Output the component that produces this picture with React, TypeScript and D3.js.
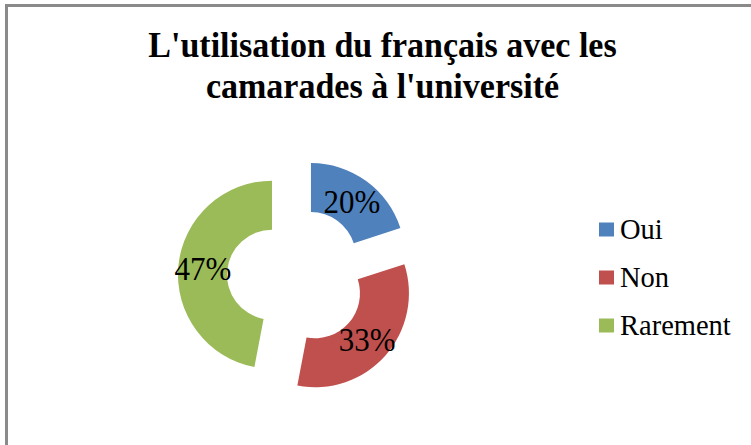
import React, { useEffect, useRef } from "react";
import * as d3 from "d3";

// chart data
const categories = ["Oui", "Non", "Rarement"];
const values = [20, 33, 47];
const colors = ["#4F81BD", "#C0504D", "#9BBB59"];
const titleLines = ["L'utilisation du français avec les", "camarades à l'université"];

const W = 751;
const H = 445;
const FONT = "'Liberation Serif', 'Times New Roman', serif";

const App = () => {
  const ref = useRef<SVGSVGElement>(null);

  useEffect(() => {
    const svg = d3.select(ref.current);
    svg.selectAll("*").remove();

    // white background + gray frame (right/bottom edges run off the picture)
    svg.append("rect").attr("width", W).attr("height", H).attr("fill", "#fff");
    svg
      .append("rect")
      .attr("x", 6.5)
      .attr("y", 5.5)
      .attr("width", W + 20)
      .attr("height", H + 20)
      .attr("fill", "none")
      .attr("stroke", "#8a8a8a")
      .attr("stroke-width", 3);

    // title (glyphs in the original are a bit taller than wide)
    svg
      .append("g")
      .selectAll("text")
      .data(titleLines)
      .enter()
      .append("text")
      .attr("transform", (d, i) => `translate(382.5,${57 + i * 41}) scale(1,1.07)`)
      .attr("text-anchor", "middle")
      .attr("font-family", FONT)
      .attr("font-weight", "bold")
      .attr("font-size", 34)
      .attr("fill", "#000")
      .text((d) => d);

    // exploded doughnut
    const cx = 296.5,
      cy = 277,
      outerR = 94,
      innerR = 45,
      explode = 24.6;

    const total = d3.sum(values);
    const pie = d3
      .pie<number>()
      .sort(null)
      .startAngle(0)
      .endAngle(2 * Math.PI)
      .value((d) => d);
    const arc = d3.arc<d3.PieArcDatum<number>>().innerRadius(innerR).outerRadius(outerR);
    const arcs = pie(values);

    const offset = (a: d3.PieArcDatum<number>) => {
      const mid = (a.startAngle + a.endAngle) / 2;
      return [Math.sin(mid) * explode, -Math.cos(mid) * explode];
    };

    const g = svg.append("g").attr("transform", `translate(${cx},${cy})`);
    const slice = g
      .selectAll(".slice")
      .data(arcs)
      .enter()
      .append("g")
      .attr("class", "slice")
      .attr("transform", (a) => {
        const [dx, dy] = offset(a);
        return `translate(${dx},${dy})`;
      });

    slice
      .append("path")
      .attr("d", arc)
      .attr("fill", (a, i) => colors[i]);

    // percentage labels
    slice
      .append("text")
      .attr("transform", (a) => {
        const [x, y] = arc.centroid(a);
        return `translate(${x},${y + 12}) scale(1,1.12)`;
      })
      .attr("text-anchor", "middle")
      .attr("font-family", FONT)
      .attr("font-size", 31)
      .attr("fill", "#000")
      .text((a) => `${Math.round((a.data / total) * 100)}%`);

    // legend
    const legend = svg
      .append("g")
      .selectAll("g")
      .data(categories)
      .enter()
      .append("g")
      .attr("transform", (d, i) => `translate(599,${222.5 + i * 48})`);

    legend
      .append("rect")
      .attr("width", 15)
      .attr("height", 14)
      .attr("fill", (d, i) => colors[i]);

    legend
      .append("text")
      .attr("x", 21)
      .attr("y", 16.5)
      .attr("font-family", FONT)
      .attr("font-size", 28.5)
      .attr("fill", "#000")
      .text((d) => d);
  }, []);

  return (
    <svg
      ref={ref}
      width={W}
      height={H}
      style={{ position: "absolute", left: 0, top: 0, display: "block" }}
    />
  );
};

export default App;
